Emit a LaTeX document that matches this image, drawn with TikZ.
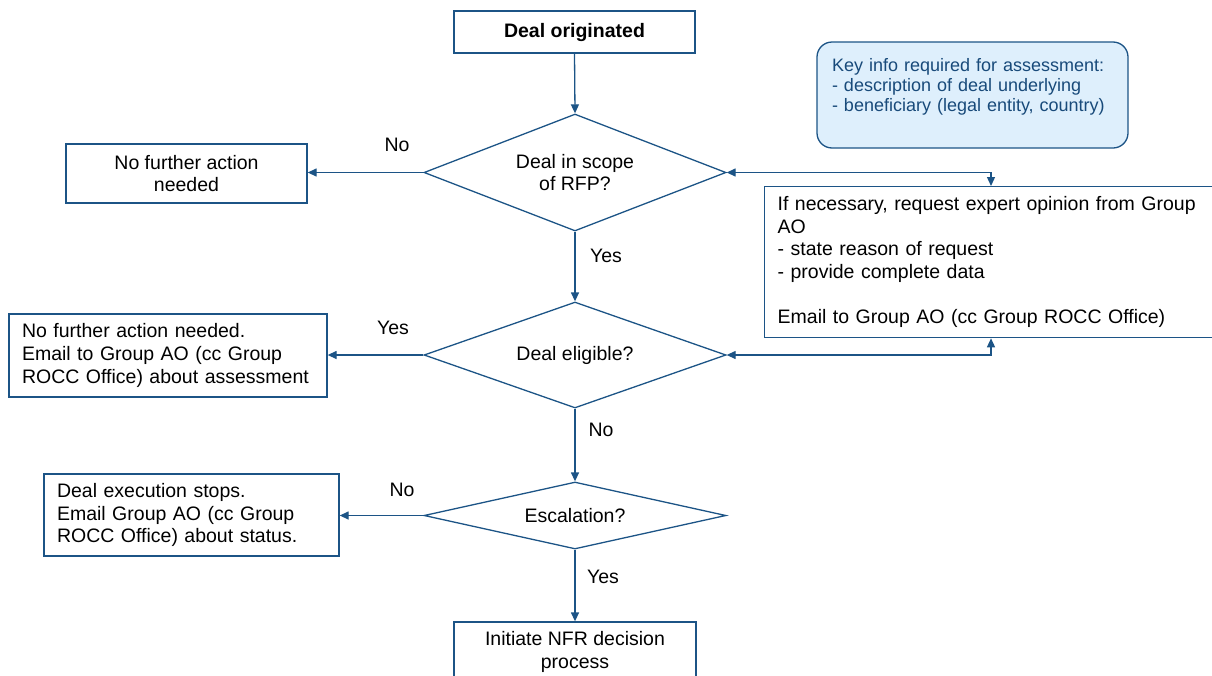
\documentclass[tikz,border=0pt]{standalone}
\usepackage{fontspec}
\setmainfont{Liberation Sans}
\usetikzlibrary{arrows.meta,shapes.geometric}
\definecolor{lineblue}{RGB}{28,84,134}
\definecolor{keyfill}{RGB}{222,239,252}
\definecolor{keytext}{RGB}{24,74,122}
\tikzset{
  base/.style={font=\fontsize{19.5}{22.7}\selectfont},
  procbox/.style={base, draw=lineblue, line width=1.3pt, rectangle, inner sep=0pt},
  decision/.style={base, draw=lineblue, line width=1.3pt, diamond, inner sep=0pt, align=center},
  flow/.style={draw=lineblue, line width=1.3pt, -{Triangle[length=9pt,width=8pt]}},
  twoway/.style={draw=lineblue, line width=1.3pt, {Triangle[length=9pt,width=8pt]}-{Triangle[length=9pt,width=8pt]}},
  lbl/.style={base, inner sep=0pt},
  keybox/.style={draw=lineblue, fill=keyfill, rounded corners=15pt, line width=1.3pt, text=keytext,
    font=\fontsize{18}{20}\selectfont, align=left, inner sep=0pt},
}
\begin{document}
\begin{tikzpicture}[x=1pt,y=-1pt]
\useasboundingbox (0,0) rectangle (1212,675);

\node[procbox, minimum width=241pt, minimum height=42pt, font=\fontsize{19.5}{22.7}\selectfont\bfseries] (A) at (574.5,32) {Deal originated};

\node[decision, minimum width=302pt, minimum height=117pt, shape aspect=2.6] (D1) at (575,172.5) {Deal in scope\\of RFP?};

\node[procbox, minimum width=241pt, minimum height=59pt, align=center] (N1) at (186.5,173.5) {No further action\\needed};

\node[decision, minimum width=302pt, minimum height=106pt, shape aspect=2.85] (D2) at (575,355) {Deal eligible?};

\node[procbox, minimum width=318pt, minimum height=83pt, text width=292pt, align=left] (Y2) at (168,355.5)
  {No further action needed.\\Email to Group AO (cc Group\\ROCC Office) about assessment};

\node[decision, minimum width=302pt, minimum height=67pt, shape aspect=4.5] (D3) at (575,515.5) {Escalation?};

\node[procbox, minimum width=295pt, minimum height=82pt, text width=269pt, align=left] (S3) at (191.5,515)
  {Deal execution stops.\\Email Group AO (cc Group\\ROCC Office) about status.};

\node[procbox, minimum width=242pt, minimum height=60pt, align=center] (B) at (575,652) {Initiate NFR decision\\process};

\node[procbox, anchor=north west, minimum width=466pt, minimum height=151pt, text width=440pt, align=left] (R) at (764,186)
  {If necessary, request expert opinion from Group\\AO\\- state reason of request\\- provide complete data\\[22.7pt]Email to Group AO (cc Group ROCC Office)};

\node[keybox, minimum width=311pt, minimum height=106pt, text width=281pt] (K) at (972.5,95)
  {Key info required for assessment:\\- description of deal underlying\\- beneficiary (legal entity, country)\\ \mbox{}};

\coordinate (rx) at (991,0);

\node[lbl] (l1) at (397,145) {No};
\node[lbl] (l2) at (606,256) {Yes};
\node[lbl] (l3) at (393,328) {Yes};
\node[lbl] (l4) at (601,430) {No};
\node[lbl] (l5) at (402,490) {No};
\node[lbl] (l6) at (603,577) {Yes};

\draw[flow] (A.south) -- (D1.north);
\draw[flow] (D1.west) -- (D1.west -| N1.east);
\draw[flow] (D1.south) -- (D2.north);
\draw[flow] (D2.west) -- (D2.west -| Y2.east);
\draw[flow] (D2.south) -- (D3.north);
\draw[flow] (D3.west) -- (D3.west -| S3.east);
\draw[flow] (D3.south) -- (B.north);
\draw[twoway] (D1.east) -| (R.north -| rx);
\draw[twoway] (D2.east) -| (R.south -| rx);
\end{tikzpicture}
\end{document}
